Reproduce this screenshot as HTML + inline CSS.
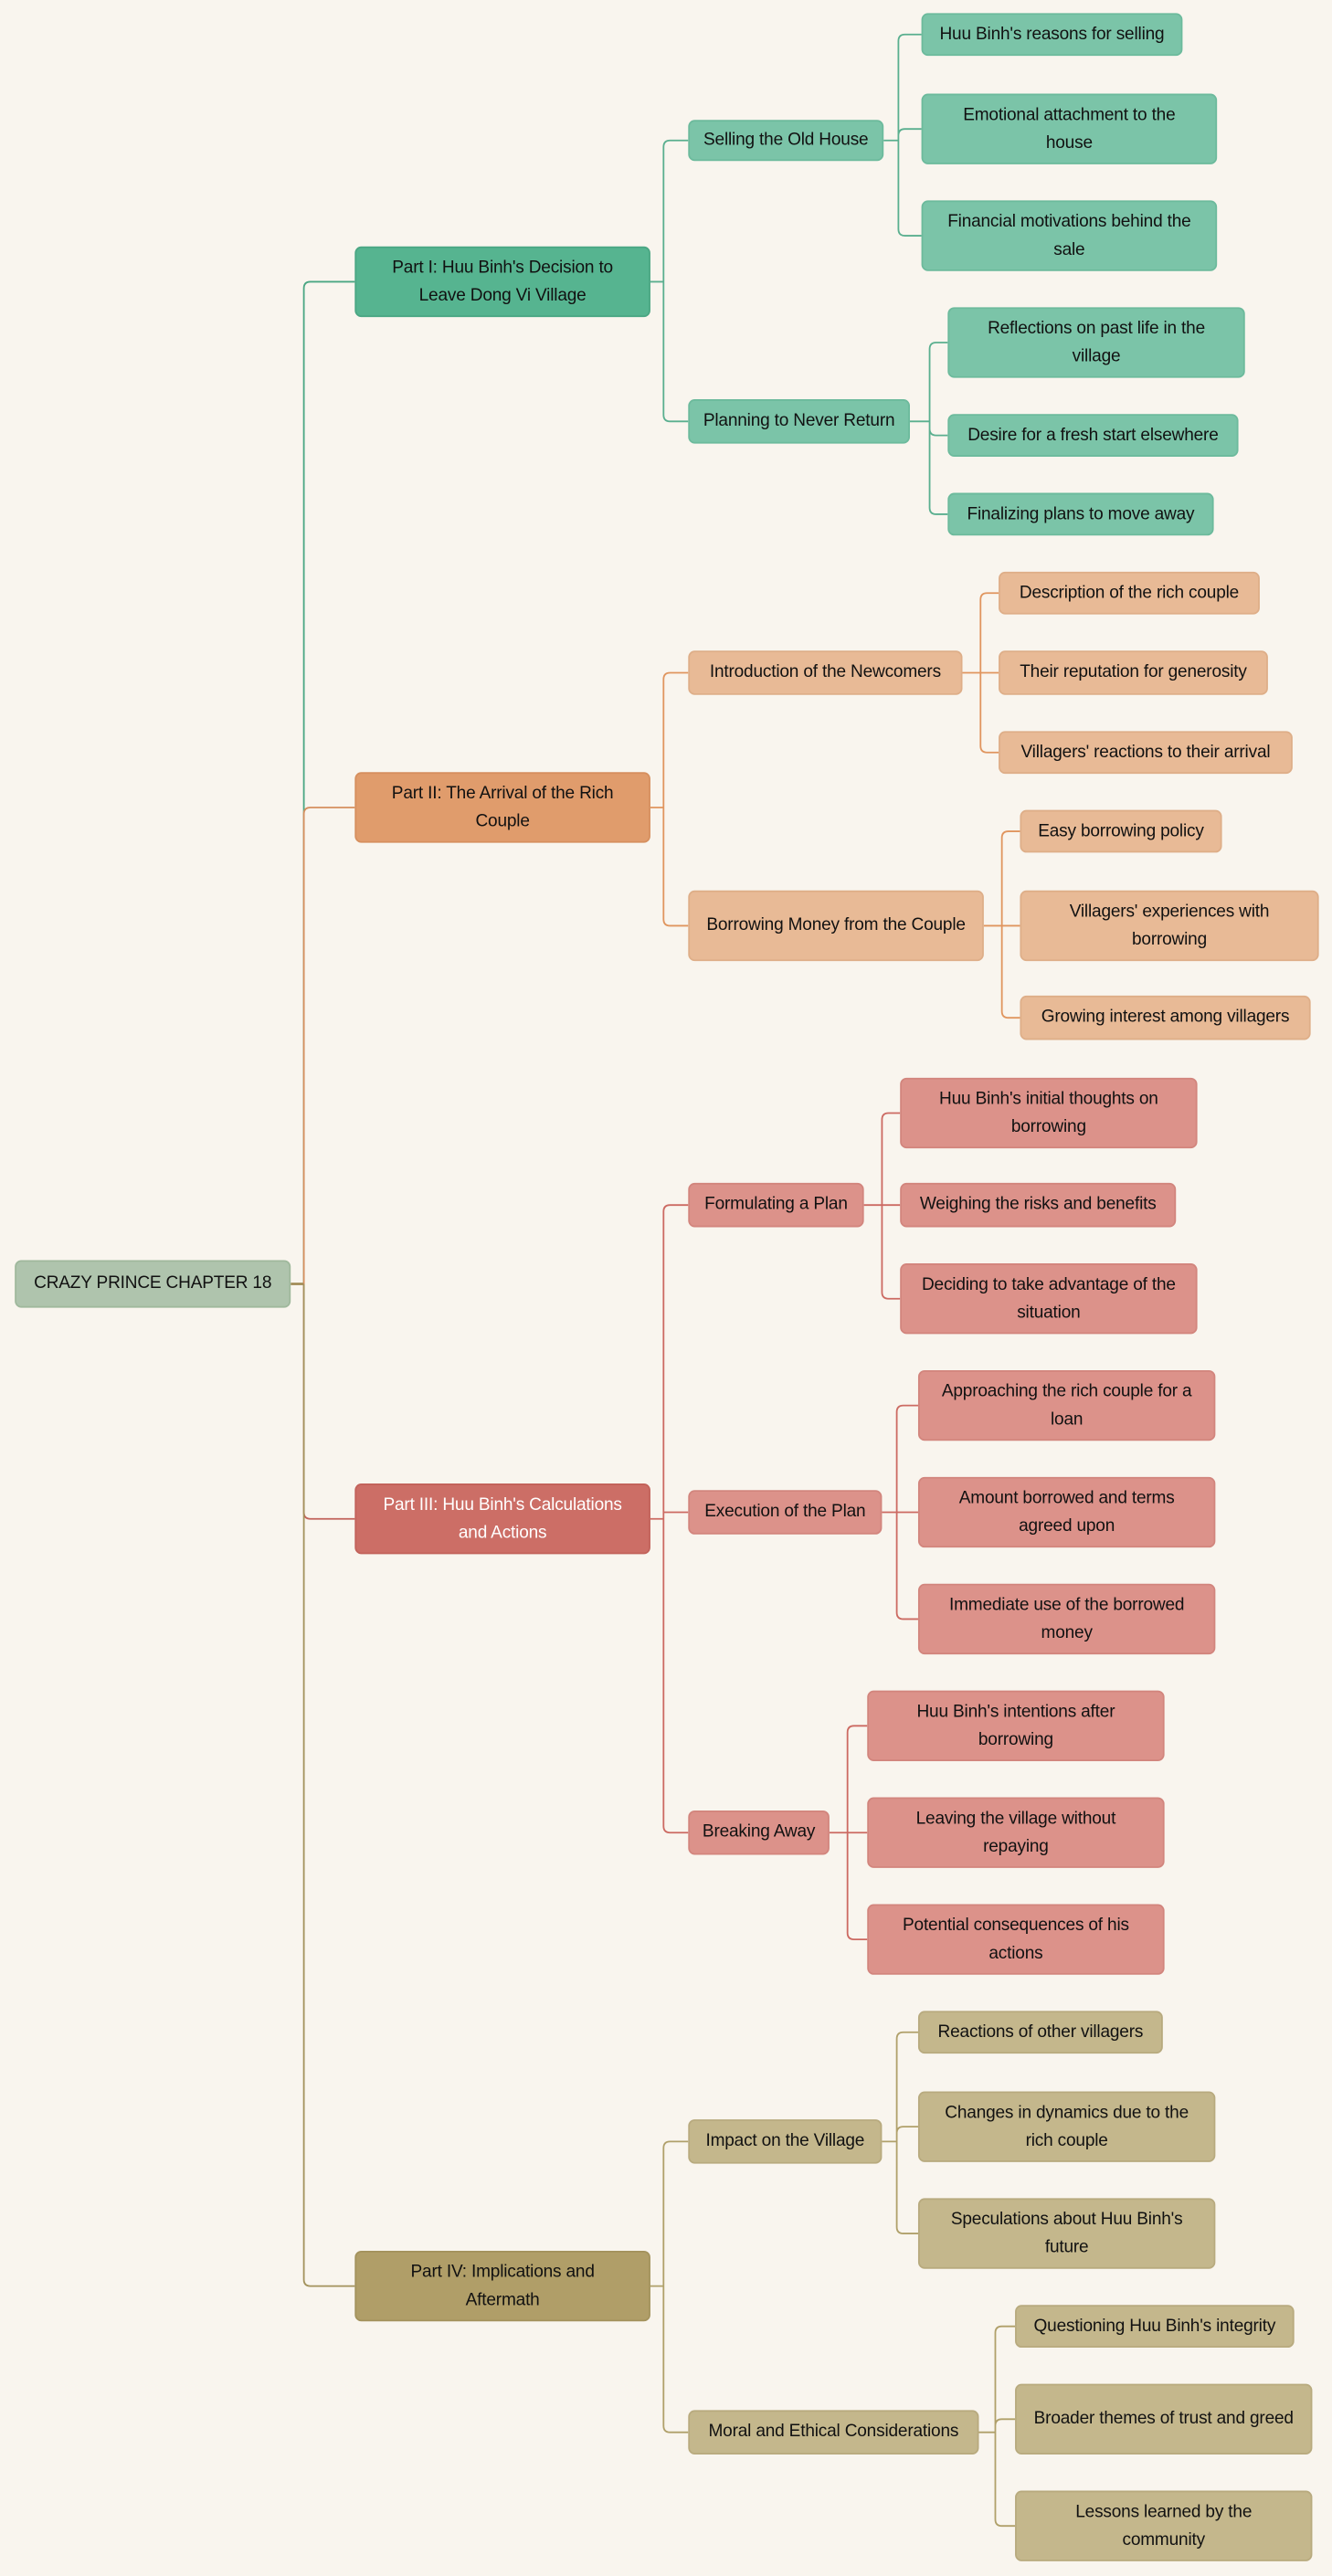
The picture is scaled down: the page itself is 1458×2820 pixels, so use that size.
<!DOCTYPE html>
<html><head><meta charset="utf-8">
<style>
html,body{margin:0;padding:0;background:#f9f5ee;}
body{width:1458px;height:2820px;overflow:hidden;position:relative;}
#w{position:absolute;left:0;top:0;width:811px;height:1568px;transform:scale(1.7978,1.7985);transform-origin:0 0;}
svg{position:absolute;left:0;top:0;}
.n{position:absolute;box-sizing:border-box;display:flex;align-items:center;justify-content:center;text-align:center;font-family:"Liberation Sans",sans-serif;font-size:10.6px;letter-spacing:-0.1px;line-height:16.5px;color:#111;border-radius:4px;padding:0 3px;border:0.6px solid rgba(0,0,0,0.08);white-space:nowrap;}
.g1{background:#56b490;border-color:#4aa683}
.g2{background:#7bc4a8;border-color:#6cba9c}
.o1{background:#e09c6c;border-color:#d68f5e}
.o2{background:#e8ba96;border-color:#deae88}
.r1{background:#cc6e66;border-color:#c2625a;color:#fff}
.r2{background:#dc928a;border-color:#d2857d}
.y1{background:#b09e68;border-color:#a3925c}
.y2{background:#c4b78c;border-color:#b8aa7e}
</style></head><body>
<div id="w">
<svg width="811" height="1568" viewBox="0 0 811 1568" fill="none" stroke-width="1">
<path stroke="#a08a55" stroke-width="1.5" d="M177 781.5H185"/>
<path stroke="#4aa683" d="M185 781.5V175.5Q185 171.5 189 171.5H216"/>
<path stroke="#d68f5e" d="M185 781.5V495.5Q185 491.5 189 491.5H216"/>
<path stroke="#c2625a" d="M185 781.5V920.5Q185 924.5 189 924.5H216"/>
<path stroke="#a3925c" d="M185 781.5V1387.5Q185 1391.5 189 1391.5H216"/>
<g stroke="#5aaf8f">
<path d="M396 171.5H404V89.5Q404 85.5 408 85.5H419M404 171.5V252.5Q404 256.5 408 256.5H419"/>
<path d="M538 85.5H547V25Q547 21 551 21H561M547 85.5V82.5Q547 78.5 551 78.5H561M547 85.5V139.5Q547 143.5 551 143.5H561"/>
<path d="M554 256.5H566V212.5Q566 208.5 570 208.5H577M566 256.5V261Q566 265 570 265H577M566 256.5V309Q566 313 570 313H577"/>
</g>
<g stroke="#e0955e">
<path d="M396 491.5H404V413.5Q404 409.5 408 409.5H419M404 491.5V559.5Q404 563.5 408 563.5H419"/>
<path d="M586 409.5H608M597 409.5V365Q597 361 601 361H608M597 409.5V454Q597 458 601 458H608"/>
<path d="M599 563.5H621M610 563.5V510Q610 506 614 506H621M610 563.5V615.5Q610 619.5 614 619.5H621"/>
</g>
<g stroke="#cc6a62">
<path d="M396 924.5H404V737.5Q404 733.5 408 733.5H419M404 924.5V920.5H419M404 924.5V1111.5Q404 1115.5 408 1115.5H419"/>
<path d="M526 733.5H548M537 733.5V681.5Q537 677.5 541 677.5H548M537 733.5V786.5Q537 790.5 541 790.5H548"/>
<path d="M537 920.5H559M546 920.5V859.5Q546 855.5 550 855.5H559M546 920.5V981.5Q546 985.5 550 985.5H559"/>
<path d="M505 1115.5H528M516 1115.5V1054.5Q516 1050.5 520 1050.5H528M516 1115.5V1176.5Q516 1180.5 520 1180.5H528"/>
</g>
<g stroke="#b0a06a">
<path d="M396 1391.5H404V1307.5Q404 1303.5 408 1303.5H419M404 1391.5V1476.5Q404 1480.5 408 1480.5H419"/>
<path d="M537 1303.5H546V1241Q546 1237 550 1237H559M546 1303.5V1298.5Q546 1294.5 550 1294.5H559M546 1303.5V1355.5Q546 1359.5 550 1359.5H559"/>
<path d="M596 1480.5H606V1420Q606 1416 610 1416H618M606 1480.5V1476.5Q606 1472.5 610 1472.5H618M606 1480.5V1533.5Q606 1537.5 610 1537.5H618"/>
</g>
</svg>

<div class="n" style="left:9px;top:767px;width:168px;height:29px;background:#afc4ad;border-color:#9fb89c">CRAZY PRINCE CHAPTER 18</div>

<div class="n g1" style="left:216px;top:150px;width:180px;height:43px">Part I: Huu Binh's Decision to<br>Leave Dong Vi Village</div>
<div class="n o1" style="left:216px;top:470px;width:180px;height:43px">Part II: The Arrival of the Rich<br>Couple</div>
<div class="n r1" style="left:216px;top:903px;width:180px;height:43px">Part III: Huu Binh's Calculations<br>and Actions</div>
<div class="n y1" style="left:216px;top:1370px;width:180px;height:43px">Part IV: Implications and<br>Aftermath</div>

<div class="n g2" style="left:419px;top:73px;width:119px;height:25px">Selling the Old House</div>
<div class="n g2" style="left:419px;top:243px;width:135px;height:27px">Planning to Never Return</div>
<div class="n o2" style="left:419px;top:396px;width:167px;height:27px">Introduction of the Newcomers</div>
<div class="n o2" style="left:419px;top:542px;width:180px;height:43px">Borrowing Money from the Couple</div>
<div class="n r2" style="left:419px;top:720px;width:107px;height:27px">Formulating a Plan</div>
<div class="n r2" style="left:419px;top:907px;width:118px;height:27px">Execution of the Plan</div>
<div class="n r2" style="left:419px;top:1102px;width:86px;height:27px">Breaking Away</div>
<div class="n y2" style="left:419px;top:1290px;width:118px;height:27px">Impact on the Village</div>
<div class="n y2" style="left:419px;top:1467px;width:177px;height:27px">Moral and Ethical Considerations</div>

<div class="n g2" style="left:561px;top:8px;width:159px;height:26px">Huu Binh's reasons for selling</div>
<div class="n g2" style="left:561px;top:57px;width:180px;height:43px">Emotional attachment to the<br>house</div>
<div class="n g2" style="left:561px;top:122px;width:180px;height:43px">Financial motivations behind the<br>sale</div>
<div class="n g2" style="left:577px;top:187px;width:181px;height:43px">Reflections on past life in the<br>village</div>
<div class="n g2" style="left:577px;top:252px;width:177px;height:26px">Desire for a fresh start elsewhere</div>
<div class="n g2" style="left:577px;top:300px;width:162px;height:26px">Finalizing plans to move away</div>

<div class="n o2" style="left:608px;top:348px;width:159px;height:26px">Description of the rich couple</div>
<div class="n o2" style="left:608px;top:396px;width:164px;height:27px">Their reputation for generosity</div>
<div class="n o2" style="left:608px;top:445px;width:179px;height:26px">Villagers' reactions to their arrival</div>
<div class="n o2" style="left:621px;top:493px;width:123px;height:26px">Easy borrowing policy</div>
<div class="n o2" style="left:621px;top:542px;width:182px;height:43px">Villagers' experiences with<br>borrowing</div>
<div class="n o2" style="left:621px;top:606px;width:177px;height:27px">Growing interest among villagers</div>

<div class="n r2" style="left:548px;top:656px;width:181px;height:43px">Huu Binh's initial thoughts on<br>borrowing</div>
<div class="n r2" style="left:548px;top:720px;width:168px;height:27px">Weighing the risks and benefits</div>
<div class="n r2" style="left:548px;top:769px;width:181px;height:43px">Deciding to take advantage of the<br>situation</div>
<div class="n r2" style="left:559px;top:834px;width:181px;height:43px">Approaching the rich couple for a<br>loan</div>
<div class="n r2" style="left:559px;top:899px;width:181px;height:43px">Amount borrowed and terms<br>agreed upon</div>
<div class="n r2" style="left:559px;top:964px;width:181px;height:43px">Immediate use of the borrowed<br>money</div>
<div class="n r2" style="left:528px;top:1029px;width:181px;height:43px">Huu Binh's intentions after<br>borrowing</div>
<div class="n r2" style="left:528px;top:1094px;width:181px;height:43px">Leaving the village without<br>repaying</div>
<div class="n r2" style="left:528px;top:1159px;width:181px;height:43px">Potential consequences of his<br>actions</div>

<div class="n y2" style="left:559px;top:1224px;width:149px;height:26px">Reactions of other villagers</div>
<div class="n y2" style="left:559px;top:1273px;width:181px;height:43px">Changes in dynamics due to the<br>rich couple</div>
<div class="n y2" style="left:559px;top:1338px;width:181px;height:43px">Speculations about Huu Binh's<br>future</div>
<div class="n y2" style="left:618px;top:1403px;width:170px;height:26px">Questioning Huu Binh's integrity</div>
<div class="n y2" style="left:618px;top:1451px;width:181px;height:43px">Broader themes of trust and greed</div>
<div class="n y2" style="left:618px;top:1516px;width:181px;height:43px">Lessons learned by the<br>community</div>
</div>
</body></html>
